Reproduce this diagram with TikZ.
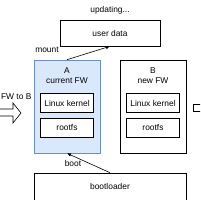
\documentclass[tikz,border=0pt]{standalone}
\usepackage{fontspec}
\setmainfont{Liberation Sans}
\usepackage{xcolor}
\usetikzlibrary{arrows.meta, positioning}

\definecolor{fwfill}{HTML}{DAE8FC}
\definecolor{fwline}{HTML}{6C8EBF}

\begin{document}
\begin{tikzpicture}[x=1pt, y=-1pt, line width=0.6pt,
    every node/.style={font=\fontsize{8.4}{10}\selectfont, inner sep=0pt},
    box/.style={draw, rectangle, minimum width=#1},
    box/.default=53]
            \useasboundingbox (0,0) rectangle (200,200);
            \clip (0,0) rectangle (200,200);
            \node (upd) at (110,10) {updating...};
            \node[box=100, minimum height=26] (ud) at (110,33) {user data};
            \node[box=66, minimum height=93, fill=fwfill, draw=fwline] (A) at (67,106.5) {};
            \node[box=66, minimum height=93] (B) at (153,106.5) {};
            \node[align=center] (Alab) at (67,76) {A\\current FW};
            \node[align=center] (Blab) at (153,76) {B\\new FW};
            \node[box, minimum height=19, fill=white] (ka) at (67,103) {Linux kernel};
            \node[box, minimum height=19, fill=white] (ra) at (67,128) {rootfs};
            \node[box, minimum height=19] (kb) at (153,103) {Linux kernel};
            \node[box, minimum height=19] (rb) at (153,128) {rootfs};
            \node[box=152, minimum height=27] (bl) at (110,186.5) {bootloader};
            \node (mnt) at (47,50) {mount};
            \node (bt) at (73,163) {boot};
            \node[anchor=west] (sw) at (0.8,97) {FW to B};
            \draw[-{Latex[length=4pt,width=3.5pt]}] (A.north) -- (ud.south);
            \draw[-{Latex[length=4pt,width=3.5pt]}] (bl.north) -- (A.south);
            \draw (-5,109) -- (13,109) -- (13,103) -- (21,113) -- (13,123) -- (13,116) -- (-5,116);
            \draw (205,104) -- (193,104) -- (193,111) -- (205,111);
        \end{tikzpicture}
\end{document}
